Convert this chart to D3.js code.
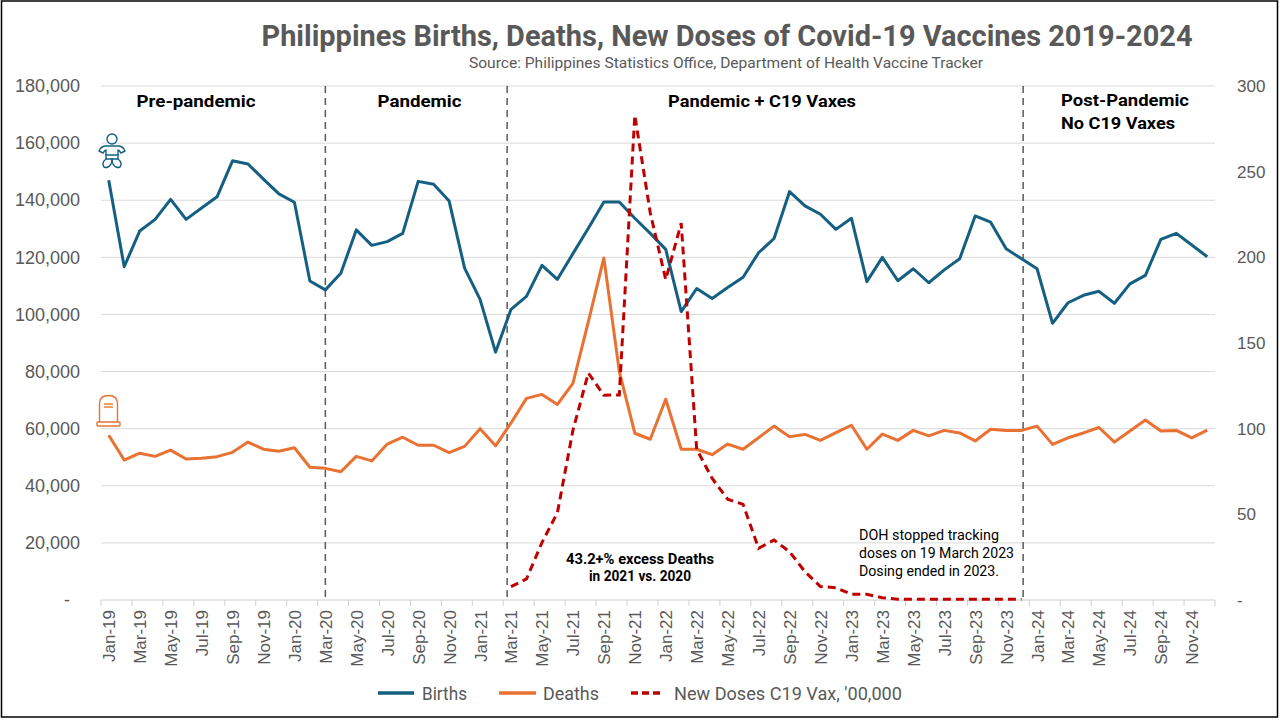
<!DOCTYPE html>
<html><head><meta charset="utf-8">
<script src="https://cdn.jsdelivr.net/npm/d3@7"></script>
<style>body{margin:0;background:#fff;} svg{display:block;font-family:Roboto,"Noto Sans",sans-serif;}</style>
</head><body><svg id="c" width="1280" height="720"></svg>
<script>
const months = ["Jan-19","Feb-19","Mar-19","Apr-19","May-19","Jun-19","Jul-19","Aug-19","Sep-19","Oct-19","Nov-19","Dec-19",
"Jan-20","Feb-20","Mar-20","Apr-20","May-20","Jun-20","Jul-20","Aug-20","Sep-20","Oct-20","Nov-20","Dec-20",
"Jan-21","Feb-21","Mar-21","Apr-21","May-21","Jun-21","Jul-21","Aug-21","Sep-21","Oct-21","Nov-21","Dec-21",
"Jan-22","Feb-22","Mar-22","Apr-22","May-22","Jun-22","Jul-22","Aug-22","Sep-22","Oct-22","Nov-22","Dec-22",
"Jan-23","Feb-23","Mar-23","Apr-23","May-23","Jun-23","Jul-23","Aug-23","Sep-23","Oct-23","Nov-23","Dec-23",
"Jan-24","Feb-24","Mar-24","Apr-24","May-24","Jun-24","Jul-24","Aug-24","Sep-24","Oct-24","Nov-24","Dec-24"];
const births = [147000,116700,129200,133300,140300,133300,137300,141200,153800,152700,147400,142200,
139300,111700,108600,114400,129600,124200,125500,128400,146600,145600,139700,116200,
105300,86800,101800,106300,117200,112300,121300,130200,139400,139400,133700,128400,
122800,101000,109100,105600,109400,113000,121600,126600,143000,138000,135100,129800,
133700,111500,120000,111800,116000,111100,115600,119500,134500,132300,123000,119500,
116000,96900,104100,106700,108100,103900,110700,113700,126300,128400,124300,120200];
const deaths = [57700,49000,51400,50300,52500,49400,49600,50200,51700,55300,52800,52100,
53300,46500,46100,44900,50300,48700,54600,57000,54200,54200,51600,53800,
60000,54000,62000,70600,72000,68500,75900,97500,119800,80000,58400,56300,
70300,52800,52800,50900,54600,52800,56800,60900,57200,58000,55900,58600,
61200,52800,58100,55900,59400,57500,59400,58500,55700,59800,59400,59400,
60900,54500,56800,58500,60400,55300,59200,63000,59200,59400,56800,59500];
const doses = [null,null,null,null,null,null,null,null,null,null,null,null,
null,null,null,null,null,null,null,null,null,null,null,null,
null,null,7.8,12.3,33.5,51,99,132.5,119.5,119.7,283,226,
187,220,88,71,58.8,55.8,30.2,35,28.2,16.5,7.8,7.2,
3.3,3.3,1.3,0.5,0.5,0.5,0.5,0.5,0.5,0.5,0.5,0.5,
null,null,null,null,null,null,null,null,null,null,null,null];
const leftTicks = [0,20000,40000,60000,80000,100000,120000,140000,160000,180000];
const rightTicks = [0,50,100,150,200,250,300];
const seriesNames = ["Births","Deaths","New Doses C19 Vax, '00,000"];
const title = "Philippines Births, Deaths, New Doses of Covid-19 Vaccines 2019-2024";
const subtitle = "Source: Philippines Statistics Office, Department of Health Vaccine Tracker";

const C_B = "#156082", C_D = "#E97132", C_V = "#C00000", GRAY = "#595959";
const AX_FONT = "'Liberation Sans', Arial, sans-serif";
const svg = d3.select("#c");
const L = 101, R = 1215, T = 86, B = 600;
const x = d3.scalePoint().domain(months).range([L, R]).padding(0.5);
const step = x.step();
const yL = d3.scaleLinear().domain([0, 180000]).range([B, T]);
const yR = d3.scaleLinear().domain([0, 300]).range([B, T]);

function txt(g, s, px, py, opts) {
  const t = g.append("text").attr("x", px).attr("y", py).text(s)
    .attr("font-size", opts.size).attr("fill", opts.fill || "#000")
    .attr("font-weight", opts.weight || "normal")
    .attr("text-anchor", opts.anchor || "start");
  if (opts.family) t.attr("font-family", opts.family);
  if (opts.len) t.attr("textLength", opts.len).attr("lengthAdjust", "spacingAndGlyphs");
  return t;
}

// border
svg.append("rect").attr("x", 1.5).attr("y", 1).attr("width", 1276).attr("height", 716)
  .attr("fill", "none").attr("stroke", "#000").attr("stroke-width", 1.5);

// gridlines
svg.append("g").selectAll("line").data(leftTicks.filter(d => d > 0)).join("line")
  .attr("x1", L).attr("x2", R).attr("y1", d => yL(d)).attr("y2", d => yL(d))
  .attr("stroke", "#d9d9d9").attr("stroke-width", 1);
svg.append("line").attr("x1", L).attr("x2", R).attr("y1", B).attr("y2", B)
  .attr("stroke", "#d0d0d0").attr("stroke-width", 1);

// axes
const fmtL = d => d === 0 ? "-" : d3.format(",")(d);
const gl = svg.append("g").attr("transform", `translate(${L},0)`)
  .call(d3.axisLeft(yL).tickValues(leftTicks).tickFormat(fmtL).tickSize(0).tickPadding(21));
gl.select(".domain").remove();
gl.selectAll("text").attr("font-size", 18).attr("fill", GRAY).attr("font-family", AX_FONT);
gl.selectAll(".tick").filter(d => d === 0).select("text").attr("dx", -10);

const gr = svg.append("g").attr("transform", `translate(${R},0)`)
  .call(d3.axisRight(yR).tickValues(rightTicks).tickFormat(d => d === 0 ? "-" : d).tickSize(0).tickPadding(22));
gr.select(".domain").remove();
gr.selectAll("text").attr("font-size", 17).attr("fill", GRAY).attr("font-family", AX_FONT);

const labelMonths = months.filter((m, i) => i % 2 === 0);
const gx = svg.append("g").attr("transform", `translate(0,${B})`)
  .call(d3.axisBottom(x).tickValues(labelMonths).tickSize(0).tickPadding(0));
gx.select(".domain").remove();
gx.selectAll("text").attr("font-size", 17).attr("fill", GRAY).attr("font-family", AX_FONT)
  .attr("text-anchor", "end").attr("transform", "rotate(-90)")
  .attr("x", -10).attr("y", 0).attr("dy", "0.35em");
// tick marks at category boundaries
svg.append("g").selectAll("line").data(labelMonths.map(m => x(m) - step / 2).concat([R])).join("line")
  .attr("x1", d => d).attr("x2", d => d).attr("y1", B).attr("y2", B + 6)
  .attr("stroke", "#d0d0d0").attr("stroke-width", 1);

// phase dividers
const dividers = [x("Mar-20"), x("Mar-21") - step * 0.25, x("Dec-23") + step * 0.1];
svg.append("g").selectAll("line").data(dividers).join("line")
  .attr("x1", d => d).attr("x2", d => d).attr("y1", T).attr("y2", B)
  .attr("stroke", GRAY).attr("stroke-width", 1.5).attr("stroke-dasharray", "7,5");

// lines
const lineL = d3.line().defined(d => d.v != null).x(d => x(d.m)).y(d => yL(d.v));
const lineR = d3.line().defined(d => d.v != null).x(d => x(d.m)).y(d => yR(d.v));
svg.append("path").datum(months.map((m, i) => ({m, v: deaths[i]}))).attr("d", lineL)
  .attr("fill", "none").attr("stroke", C_D).attr("stroke-width", 3).attr("stroke-linejoin", "round");
svg.append("path").datum(months.map((m, i) => ({m, v: births[i]}))).attr("d", lineL)
  .attr("fill", "none").attr("stroke", C_B).attr("stroke-width", 3).attr("stroke-linejoin", "round");
svg.append("path").datum(months.map((m, i) => ({m, v: doses[i]}))).attr("d", lineR)
  .attr("fill", "none").attr("stroke", C_V).attr("stroke-width", 3).attr("stroke-dasharray", "8,5");

// title
txt(svg, title, 727, 46, {size: 30, weight: "bold", fill: GRAY, anchor: "middle", len: 931});
txt(svg, subtitle, 726, 68, {size: 15, fill: GRAY, anchor: "middle", len: 514});

// phase labels
txt(svg, "Pre-pandemic", 196, 107, {size: 17, weight: "bold", anchor: "middle", len: 119});
txt(svg, "Pandemic", 419.5, 107, {size: 17, weight: "bold", anchor: "middle", len: 84});
txt(svg, "Pandemic + C19 Vaxes", 762, 107, {size: 17, weight: "bold", anchor: "middle", len: 188});
txt(svg, "Post-Pandemic", 1061, 106, {size: 17, weight: "bold", len: 128});
txt(svg, "No C19 Vaxes", 1061, 129, {size: 17, weight: "bold", len: 114});

// annotations
txt(svg, "43.2+% excess Deaths", 640, 564, {size: 14, weight: "bold", anchor: "middle", len: 148});
txt(svg, "in 2021 vs. 2020", 640, 581, {size: 14, weight: "bold", anchor: "middle", len: 102});
txt(svg, "DOH stopped tracking", 859, 540, {size: 14, len: 140});
txt(svg, "doses on 19 March 2023", 859, 558, {size: 14, len: 155});
txt(svg, "Dosing ended in 2023.", 859, 576, {size: 14, len: 140});

// legend
const lg = svg.append("g");
const legendItems = [
  {name: seriesNames[0], c: C_B, x1: 378, x2: 414, tx: 422, len: 45, dash: null},
  {name: seriesNames[1], c: C_D, x1: 499, x2: 536, tx: 543, len: 56, dash: null},
  {name: seriesNames[2], c: C_V, x1: 631, x2: 664, tx: 674, len: 228, dash: "7,4"}
];
legendItems.forEach(it => {
  lg.append("line").attr("x1", it.x1).attr("x2", it.x2).attr("y1", 693).attr("y2", 693)
    .attr("stroke", it.c).attr("stroke-width", 3.5).attr("stroke-dasharray", it.dash);
  txt(lg, it.name, it.tx, 699.5, {size: 17.5, fill: GRAY, len: it.len});
});

// baby icon
const bi = svg.append("g").attr("fill", "none").attr("stroke", C_B).attr("stroke-width", 1.4)
  .attr("stroke-linejoin", "round").attr("stroke-linecap", "round");
bi.append("circle").attr("cx", 112).attr("cy", 139).attr("r", 5);
bi.append("path").attr("d", "M99,151 Q101,146 106,146 L118,146 Q123,146 125,151 L121,153 Q119,150 118,150 L118,155 L106,155 L106,150 Q105,150 103,153 Z");
bi.append("path").attr("d", "M106,155 L106,159 L118,159 L118,155");
bi.append("path").attr("d", "M106,159 Q101,163 104,167 Q108,169 111,164 Q112,162 112,159");
bi.append("path").attr("d", "M118,159 Q123,163 120,167 Q116,169 113,164 Q112,162 112,159");

// gravestone icon
const gi = svg.append("g").attr("fill", "none").attr("stroke", C_D).attr("stroke-width", 1.4);
gi.append("path").attr("d", "M99.5,422 L99.5,404 Q99.5,395.5 108.5,395.5 Q117.5,395.5 117.5,404 L117.5,422");
gi.append("rect").attr("x", 97).attr("y", 422).attr("width", 23).attr("height", 4).attr("rx", 1);
gi.append("line").attr("x1", 104).attr("x2", 113).attr("y1", 404).attr("y2", 404);
gi.append("line").attr("x1", 104).attr("x2", 113).attr("y1", 407).attr("y2", 407);
</script></body></html>
